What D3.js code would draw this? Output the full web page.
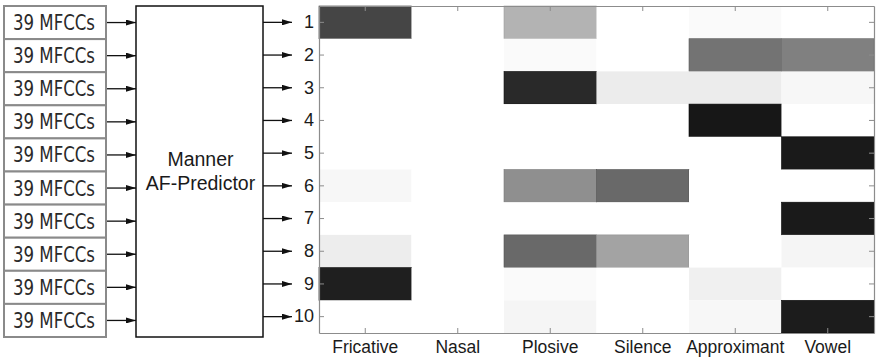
<!DOCTYPE html>
<html>
<head>
<meta charset="utf-8">
<script src="https://cdn.jsdelivr.net/npm/d3@7"></script>
<style>
  html, body { margin: 0; padding: 0; background: #fff; }
  svg { display: block; }
</style>
</head>
<body>
<svg id="chart" width="880" height="358"></svg>
<script>
// ---- Data ----
const columns = ["Fricative", "Nasal", "Plosive", "Silence", "Approximant", "Vowel"];
const rowLabels = ["1", "2", "3", "4", "5", "6", "7", "8", "9", "10"];
const inputLabels = ["39 MFCCs", "39 MFCCs", "39 MFCCs", "39 MFCCs", "39 MFCCs",
                     "39 MFCCs", "39 MFCCs", "39 MFCCs", "39 MFCCs", "39 MFCCs"];
const predictorLines = ["Manner", "AF-Predictor"];
// weight per output unit (row) and manner class (column); 0 = white, 1 = black
const values = [
  [0.73, 0.00, 0.30, 0.00, 0.02, 0.00],
  [0.00, 0.00, 0.02, 0.00, 0.55, 0.50],
  [0.00, 0.00, 0.84, 0.075, 0.075, 0.03],
  [0.00, 0.00, 0.00, 0.00, 0.91, 0.00],
  [0.00, 0.00, 0.00, 0.00, 0.00, 0.90],
  [0.03, 0.00, 0.44, 0.59, 0.00, 0.00],
  [0.00, 0.00, 0.00, 0.00, 0.00, 0.90],
  [0.07, 0.00, 0.59, 0.36, 0.00, 0.04],
  [0.88, 0.00, 0.02, 0.00, 0.06, 0.00],
  [0.00, 0.00, 0.04, 0.00, 0.03, 0.89]
];

// ---- Layout ----
const svg = d3.select("#chart");
const plot = { left: 319, right: 874, top: 6, bottom: 333 };
const diag = { boxLeft: 4, boxRight: 106, top: 6, bottom: 337, predLeft: 136, predRight: 263 };

const x = d3.scaleBand().domain(columns).range([plot.left, plot.right]).padding(0);
const y = d3.scaleBand().domain(rowLabels).range([plot.top, plot.bottom]).padding(0);
const yIn = d3.scaleBand().domain(d3.range(inputLabels.length)).range([diag.top, diag.bottom]).padding(0);
const shade = d3.scaleLinear().domain([0, 1]).range(["#ffffff", "#000000"]);

// arrow marker
svg.append("defs").append("marker")
  .attr("id", "arrow")
  .attr("viewBox", "0 0 10 6")
  .attr("refX", 10).attr("refY", 3)
  .attr("markerWidth", 10).attr("markerHeight", 6)
  .attr("markerUnits", "userSpaceOnUse")
  .attr("orient", "auto")
  .append("path").attr("d", "M0,0 L10,3 L0,6 Z").attr("fill", "#111");

// ---- Heatmap cells ----
const cells = [];
values.forEach((row, i) => row.forEach((v, j) => cells.push({ r: rowLabels[i], c: columns[j], v })));
svg.append("g").selectAll("rect").data(cells).join("rect")
  .attr("x", d => x(d.c))
  .attr("y", d => y(d.r))
  .attr("width", x.bandwidth())
  .attr("height", y.bandwidth())
  .attr("fill", d => shade(d.v))
  .attr("stroke", d => d.v > 0.25 ? shade(Math.min(1, d.v + 0.08)) : "none")
  .attr("stroke-width", 0.6);

// ---- Axes (inward ticks, gray frame) ----
const axisColor = "#8c8c8c";
const tickLen = 5;
const bottomAxis = d3.axisBottom(x).tickSizeInner(-tickLen).tickSizeOuter(0);
const topAxis = d3.axisTop(x).tickSizeInner(-tickLen).tickSizeOuter(0).tickFormat("");
const leftAxis = d3.axisLeft(y).tickSizeInner(-tickLen).tickSizeOuter(0).tickPadding(5);
const rightAxis = d3.axisRight(y).tickSizeInner(-tickLen).tickSizeOuter(0).tickFormat("");

function styleAxis(g) {
  g.select(".domain").attr("stroke", axisColor).attr("stroke-width", 1.2);
  g.selectAll(".tick line").attr("stroke", axisColor).attr("stroke-width", 1);
  g.selectAll(".tick text").attr("fill", "#1a1a1a")
    .attr("font-family", "'Liberation Sans', Arial, sans-serif").attr("font-size", 17.5);
}
svg.append("g").attr("transform", `translate(0,${plot.bottom})`).call(bottomAxis).call(styleAxis)
  .selectAll(".tick text").attr("y", 20).attr("dy", 0);
svg.append("g").attr("transform", `translate(0,${plot.top})`).call(topAxis).call(styleAxis);
svg.append("g").attr("transform", `translate(${plot.left},0)`).call(leftAxis).call(styleAxis)
  .selectAll(".tick text").attr("font-size", 18);
svg.append("g").attr("transform", `translate(${plot.right},0)`).call(rightAxis).call(styleAxis);

// ---- Input boxes ----
const inG = svg.append("g");
inG.selectAll("rect").data(inputLabels).join("rect")
  .attr("x", diag.boxLeft)
  .attr("y", (d, i) => yIn(i))
  .attr("width", diag.boxRight - diag.boxLeft)
  .attr("height", yIn.bandwidth())
  .attr("fill", "#fff")
  .attr("stroke", "#8a8a8a")
  .attr("stroke-width", 2);
inG.selectAll("text").data(inputLabels).join("text")
  .attr("x", diag.boxLeft + 9)
  .attr("y", (d, i) => yIn(i) + yIn.bandwidth() / 2 + 7.5)
  .attr("textLength", 82)
  .attr("lengthAdjust", "spacingAndGlyphs")
  .attr("font-family", "'Liberation Sans Narrow', 'DejaVu Sans Condensed', 'Open Sans', sans-serif")
  .attr("font-size", 21.5)
  .attr("fill", "#2a2a2a")
  .text(d => d);

// input arrows
svg.append("g").selectAll("line").data(inputLabels).join("line")
  .attr("x1", diag.boxRight + 1)
  .attr("x2", diag.predLeft)
  .attr("y1", (d, i) => yIn(i) + yIn.bandwidth() / 2)
  .attr("y2", (d, i) => yIn(i) + yIn.bandwidth() / 2)
  .attr("stroke", "#111").attr("stroke-width", 1.3)
  .attr("marker-end", "url(#arrow)");

// ---- Predictor box ----
svg.append("rect")
  .attr("x", diag.predLeft).attr("y", diag.top)
  .attr("width", diag.predRight - diag.predLeft)
  .attr("height", diag.bottom - diag.top)
  .attr("fill", "#fff").attr("stroke", "#111").attr("stroke-width", 1.5);
svg.append("g").selectAll("text").data(predictorLines).join("text")
  .attr("x", (diag.predLeft + diag.predRight) / 2 + 1)
  .attr("y", (d, i) => 166 + i * 24)
  .attr("text-anchor", "middle")
  .attr("font-family", "'Liberation Sans', Arial, sans-serif")
  .attr("font-size", 19.5)
  .attr("fill", "#1a1a1a")
  .text(d => d);

// output arrows
svg.append("g").selectAll("line").data(rowLabels).join("line")
  .attr("x1", diag.predRight)
  .attr("x2", 292)
  .attr("y1", d => y(d) + y.bandwidth() / 2)
  .attr("y2", d => y(d) + y.bandwidth() / 2)
  .attr("stroke", "#111").attr("stroke-width", 1.3)
  .attr("marker-end", "url(#arrow)");
</script>
</body>
</html>
